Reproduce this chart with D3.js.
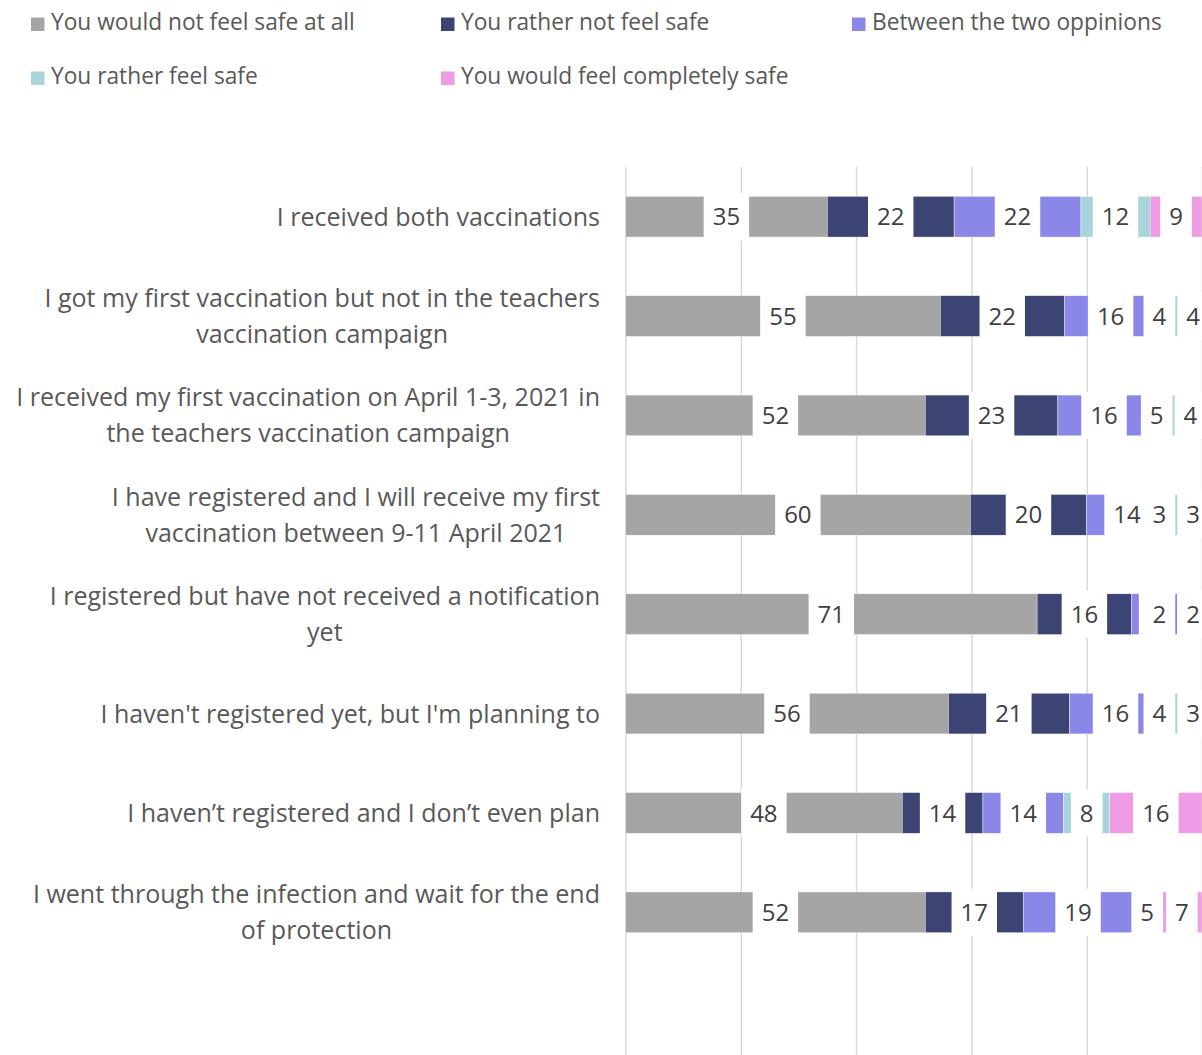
<!DOCTYPE html>
<html>
<head>
<meta charset="utf-8">
<script src="https://cdn.jsdelivr.net/npm/d3@7"></script>
<style>
  body { margin: 0; background: #ffffff; }
  svg { display: block; }
</style>
</head>
<body>
<script>
// ---------- data ----------
const categories = [
  "I received both vaccinations",
  "I got my first vaccination but not in the teachers\nvaccination campaign",
  "I received my first vaccination on April 1-3, 2021 in\nthe teachers vaccination campaign",
  "I have registered and I will receive my first\nvaccination between 9-11 April 2021",
  "I registered but have not received a notification\nyet",
  "I haven't registered yet, but I'm planning to",
  "I haven’t registered and I don’t even plan",
  "I went through the infection and wait for the end\nof protection"
];
const seriesNames = [
  "You would not feel safe at all",
  "You rather not feel safe",
  "Between the two oppinions",
  "You rather feel safe",
  "You would feel completely safe"
];
const notSafeAtAll   = [35, 54.6, 52, 59.8, 71.4, 56, 48, 52];
const ratherNotSafe  = [22, 21.5, 23, 20.2, 16.4, 21, 14, 17];
const betweenTwo     = [22, 16.1, 16, 14,   8,    16, 14, 19];
const ratherSafe     = [12, 4.4,  5,  3,    2,    4,  8,  5];
const completelySafe = [9,  4.4,  4,  3,    2.3,  3,  16, 7];
const xTicks = [0, 20, 40, 60, 80, 100];

const seriesValues = [notSafeAtAll, ratherNotSafe, betweenTwo, ratherSafe, completelySafe];
const colors = ["#A5A5A5", "#3B4472", "#8A87E8", "#A9D4DB", "#EE9CE3"];

// ---------- setup ----------
const W = 1202, H = 1055;
const FONT = "'Open Sans', 'Noto Sans', sans-serif";
const svg = d3.select("body").append("svg").attr("width", W).attr("height", H);

function measure(str, size) {
  const t = svg.append("text").attr("font-family", FONT).attr("font-size", size).text(str);
  const w = t.node().getComputedTextLength();
  t.remove();
  return w;
}

const plotTop = 167, plotBottom = 962, gridBottom = 1060;
const x = d3.scaleLinear().domain([0, 100]).range([625.5, 1202]);
const y = d3.scaleBand().domain(categories).range([plotTop, plotBottom])
  .paddingInner(0.59).paddingOuter(0.295);

// ---------- legend ----------
const legendSize = 20 * 304 / measure(seriesNames[0], 20);
const legendPos = [[31, 31], [441, 31], [852, 31], [31, 85], [441, 85]];
const legend = svg.append("g");
seriesNames.forEach((name, i) => {
  const [lx, ly] = legendPos[i];
  legend.append("rect").attr("x", lx).attr("y", ly - 13.5).attr("width", 13.5).attr("height", 13.5)
    .attr("fill", colors[i]);
  legend.append("text").attr("x", lx + 20).attr("y", ly - 1)
    .attr("font-family", FONT).attr("font-size", legendSize).attr("fill", "#595959")
    .text(name);
});

// ---------- gridlines ----------
const grid = svg.append("g").attr("transform", `translate(0,${plotTop})`)
  .call(d3.axisTop(x).tickValues(xTicks).tickSize(-(gridBottom - plotTop)).tickFormat(""));
grid.select(".domain").remove();
grid.selectAll(".tick line").attr("stroke", "#D9D9D9").attr("stroke-width", 1.5);

// ---------- category labels ----------
const allLines = categories.flatMap(c => c.split("\n"));
const widest = d3.max(allLines, l => measure(l, 24));
const catSize = Math.min(24 * 574 / measure("I got my first vaccination but not in the teachers", 24),
                         24 * 584 / widest);
const catG = svg.append("g");
categories.forEach(cat => {
  const lines = cat.split("\n");
  const maxW = d3.max(lines, l => measure(l, catSize));
  const cx = 600 - maxW / 2;
  const cy = y(cat) + y.bandwidth() / 2;
  const lh = 36;
  const t = catG.append("text").attr("font-family", FONT).attr("font-size", catSize)
    .attr("fill", "#595959").attr("text-anchor", "middle");
  lines.forEach((l, k) => {
    t.append("tspan").attr("x", cx)
      .attr("y", cy + (k - (lines.length - 1) / 2) * lh)
      .attr("dy", "0.36em").text(l);
  });
});

// ---------- stacked bars ----------
const rows = categories.map((c, i) => {
  const o = { cat: c };
  seriesNames.forEach((s, j) => { o[s] = seriesValues[j][i]; });
  return o;
});
const stacked = d3.stack().keys(seriesNames)(rows);

const barsG = svg.append("g");
stacked.forEach((layer, j) => {
  barsG.append("g").attr("fill", colors[j])
    .selectAll("rect").data(layer).join("rect")
    .attr("x", d => x(d[0]))
    .attr("y", d => y(d.data.cat))
    .attr("width", d => Math.max(0, x(d[1]) - x(d[0])))
    .attr("height", y.bandwidth())
    .attr("stroke", "#ffffff").attr("stroke-width", 0.4);
});

// ---------- data labels (white boxes) ----------
const lblSize = 24, pad = 9, boxH = 47;
const labelInfo = categories.map((c, i) => {
  const items = stacked.map((layer, j) => {
    const d = layer[i];
    const txt = d3.format(".0f")(seriesValues[j][i]);
    const tw = measure(txt, lblSize);
    return { j, txt, tw, cx: x((d[0] + d[1]) / 2) };
  });
  const n = items.length;
  const last = items[n - 1];
  last.cx = Math.min(last.cx, W - 2 - last.tw / 2);
  const prev = items[n - 2];
  const lastLeft = last.cx - last.tw / 2 - pad;
  if (prev.cx + prev.tw / 2 + pad > lastLeft - 2) prev.cx = lastLeft - 2 - prev.tw / 2 - pad;
  return { cat: c, items };
});

const lblG = svg.append("g");
seriesNames.forEach((s, j) => {
  labelInfo.forEach(row => {
    const it = row.items[j];
    const cy = y(row.cat) + y.bandwidth() / 2;
    lblG.append("rect")
      .attr("x", it.cx - it.tw / 2 - pad).attr("y", cy - boxH / 2)
      .attr("width", it.tw + 2 * pad).attr("height", boxH)
      .attr("fill", "#ffffff");
    lblG.append("text")
      .attr("x", it.cx).attr("y", cy).attr("dy", "0.36em")
      .attr("text-anchor", "middle")
      .attr("font-family", FONT).attr("font-size", lblSize).attr("fill", "#404040")
      .text(it.txt);
  });
});
</script>
</body>
</html>
